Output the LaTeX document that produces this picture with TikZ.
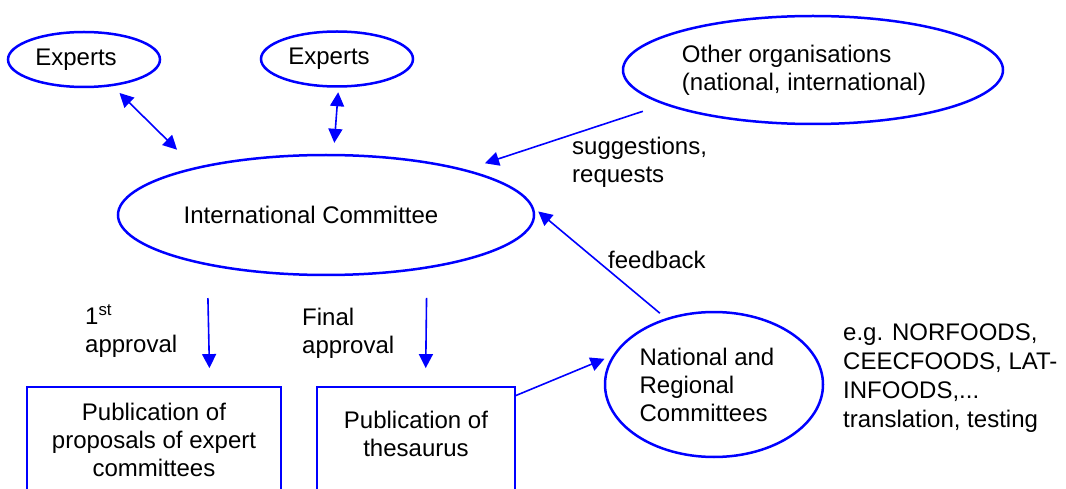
\documentclass[tikz,border=0pt]{standalone}
\usepackage{fontspec}
\setmainfont{Liberation Sans}
\usetikzlibrary{shapes.geometric, arrows.meta}

\tikzset{
	flowpicture/.style = {
		x = 1pt,
		y = -1pt,
		font = \fontsize{24}{28}\selectfont,
		>={Triangle[length=14pt, width=14pt]},
		arrow/.style = {
			draw = blue,
			line width = 1.6pt,
			->,
		}
	},
	groupnode/.style = {
		ellipse,
		draw = blue,
		line width = 2.5pt,
		inner sep = 2pt,
		align = left
	},
	pubnode/.style = {
		rectangle,
		draw = blue,
		line width = 1.8pt,
		align = center
	},
	note/.style = {
		anchor = west,
		inner sep = 0pt,
		align = left
	}
}

\begin{document}
\begin{tikzpicture}[flowpicture]
	\useasboundingbox (0,0) rectangle (1066,489);
	\clip (0,0) rectangle (1066,489);

	\node[groupnode, minimum width = 152pt, minimum height = 55pt] (expertsA) at (84,59.5) {\hspace*{-16pt}Experts};
	\node[groupnode, minimum width = 152pt, minimum height = 55pt] (expertsB) at (337,59) {\hspace*{-16pt}Experts};
	\node[groupnode, minimum width = 380pt, minimum height = 108pt] (others) at (813,70) {\hspace*{-18pt}Other organisations\\\hspace*{-18pt}(national, international)};

	\node[groupnode, minimum width = 416pt, minimum height = 120pt] (intcom) at (326,215) {\hspace*{-30pt}International Committee};
	\node[groupnode, minimum width = 218pt, minimum height = 145pt] (natreg) at (714,384.5) {\hspace*{-14pt}National and\\\hspace*{-14pt}Regional\\\hspace*{-14pt}Committees};

	\node[pubnode, minimum width = 254pt, minimum height = 106pt] (pubprop) at (154,440) {Publication of\\proposals of expert\\committees};
	\node[pubnode, minimum width = 198pt, minimum height = 106pt, text depth = 12pt] (pubthes) at (416,440) {Publication of\\thesaurus};

	% labels
	\node[note] (lblsugg) at (572,162) {suggestions,\\requests};
	\node[note] (lblfeed) at (608,260) {feedback};
	\node[note] (lblfirst) at (85,331) {1\textsuperscript{st}\\approval};
	\node[note] (lblfinal) at (302,333) {Final\\approval};
	\node[note, font = \fontsize{24}{29}\selectfont] (lbleg) at (843,378) {e.g. NORFOODS,\\CEECFOODS, LAT-\\INFOODS,...\\translation, testing};

	\begin{scope}[every path/.style = arrow]
		\path[<->, shorten <=9.6pt, shorten >=25pt] (expertsA.-43.3) to (intcom.160.8);
		\path[<->, shorten <=4.5pt, shorten >=11pt] (expertsB.-87.3) to (intcom.83.2);

		\path[shorten <=21.8pt, shorten >=19.9pt] (others.-167.6) to (intcom.18.6);
		\path[shorten <=7.7pt, shorten >=5.8pt] (natreg.126.2) to (intcom.2.7);
		\path[shorten >=8.8pt] (pubthes.24.9) to (natreg.164.7);

		\path[shorten <=32.6pt, shorten >=18pt] (intcom.-157.3) to (pubprop.44.5);
		\path[shorten <=29.2pt, shorten >=18pt] (intcom.-28.1) to (pubthes.80.4);
	\end{scope}
\end{tikzpicture}
\end{document}
